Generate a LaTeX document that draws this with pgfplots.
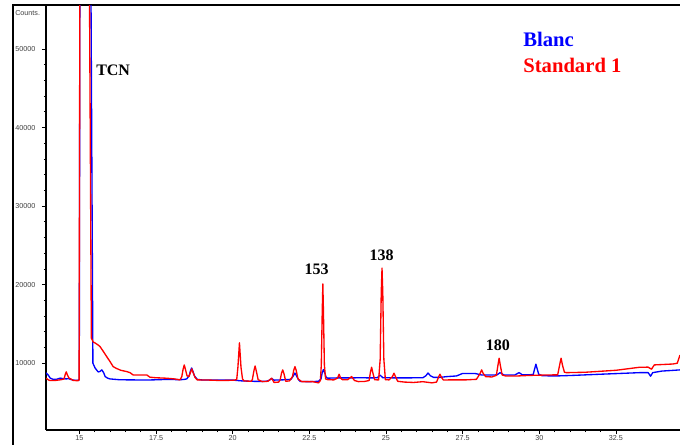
\documentclass[border=0pt]{standalone}
\usepackage{pgfplots}
\pgfplotsset{compat=1.18}
\usepackage{fontspec}
\setmainfont{Liberation Serif}
\newfontfamily\arial{Liberation Sans}
\begin{document}
\begin{tikzpicture}
\path[use as bounding box] (0,0) rectangle (510pt,333.75pt);
\draw[line width=1.3pt] (9.75pt,0) -- (9.75pt,330pt) -- (511pt,330pt);
\node[anchor=west,inner sep=0pt,font=\arial\fontsize{5.4}{6}\selectfont,text=black!75] at (11.25pt,324pt) {Counts.};
\begin{axis}[
  at={(34.5pt,11.25pt)}, anchor=south west,
  scale only axis, width=475.5pt, height=318pt,
  xmin=13.91, xmax=34.59, ymin=1500, ymax=55470,
  axis x line*=bottom, axis y line*=left,
  axis line style={line width=0.8pt},
  tick align=outside,
  major tick length=3pt, minor tick length=1.6pt,
  every tick/.style={black, line width=0.5pt},
  xtick={15,17.5,20,22.5,25,27.5,30,32.5},
  ytick={10000,20000,30000,40000,50000},
  minor x tick num=4, minor y tick num=4,
  scaled y ticks=false,
  /pgf/number format/1000 sep={},
  /pgf/number format/assume math mode=true,
  ticklabel style={font=\arial\fontsize{5.4}{6}\selectfont, text=black!75, inner sep=0pt},
  yticklabel style={anchor=west, xshift=-20.25pt},
  xticklabel style={anchor=north, yshift=-1pt},
  clip=true,
  line join=round,
]
\addplot[blue, line width=1pt] coordinates {
(13.91,8770) (13.98,8500) (14.05,8100) (14.14,7950) (14.25,7950) (14.37,8100) (14.45,8050)
(14.57,8000) (14.65,8050) (14.70,7950) (14.80,7850) (14.90,7830) (14.98,7850) (14.995,7900)
(15.02,70000) (15.36,70000) (15.44,10000) (15.51,9400) (15.61,8890) (15.67,8950) (15.73,9150)
(15.79,8800) (15.84,8300) (15.92,8100) (16.0,8000) (16.3,7900) (16.6,7880) (17.0,7870)
(17.3,7870) (17.6,7900) (17.85,7950) (18.0,7930) (18.28,7900) (18.4,7930) (18.5,8000)
(18.58,8400) (18.62,9000) (18.66,9400) (18.70,9000) (18.75,8400) (18.84,7950) (19.0,7870) (19.5,7860) (20.0,7850)
(20.3,7750) (20.6,7700) (20.9,7680) (21.1,7700) (21.2,7850) (21.27,8050) (21.35,7850)
(21.63,7880) (21.9,7950) (21.98,8400) (22.03,8750) (22.08,8400) (22.14,7950) (22.2,7680) (22.5,7650) (22.8,7700)
(22.88,8000) (22.92,8800) (22.96,9200) (23.00,8800) (23.05,8200) (23.1,8100) (23.4,8130) (23.8,8130) (24.2,8150)
(24.5,8130) (24.72,8150) (24.80,8500) (24.9,8150) (25.5,8130) (26.2,8150) (26.30,8400) (26.37,8750)
(26.45,8400) (26.55,8200) (26.76,8200) (27.0,8300) (27.3,8380) (27.5,8700) (27.9,8700) (28.12,8500)
(28.5,8500) (28.62,8520) (28.72,8800) (28.85,8500) (29.2,8500) (29.34,8800) (29.45,8520)
(29.8,8550) (29.85,9300) (29.89,9880) (29.93,9300) (29.98,8600) (30.1,8400) (30.6,8384) (31.1,8450) (32.0,8600)
(33.28,8800) (33.55,8800) (33.63,8350) (33.7,8800) (34.0,9000) (34.59,9150)
};
\addplot[red, line width=1pt] coordinates {
(13.91,8100) (14.0,7850) (14.05,7790) (14.2,7800) (14.4,7900) (14.5,8000) (14.54,8600) (14.57,8900)
(14.61,8500) (14.66,8100) (14.72,8000) (14.8,7800) (14.96,7780) (14.99,7900) (15.02,70000) (15.31,70000)
(15.39,13200) (15.45,12700) (15.51,12580) (15.6,12350) (15.675,12110) (15.78,11500)
(15.89,10840) (16.0,10200) (16.10,9570) (16.2,9350) (16.35,9100) (16.55,8930) (16.65,8800)
(16.75,8510) (17.0,8510) (17.2,8500) (17.3,8220) (17.5,8150) (17.85,8090) (18.1,8000)
(18.28,7880) (18.34,8300) (18.38,9200) (18.42,9780) (18.46,9200) (18.51,8400) (18.57,8300) (18.62,8800) (18.665,9280) (18.71,8800) (18.77,8200)
(18.84,7880) (19.2,7860) (19.6,7800) (20.0,7830) (20.13,7900) (20.17,9500) (20.22,12600) (20.27,9500) (20.32,8000)
(20.37,7750) (20.6,7700) (20.64,7900) (20.69,9000) (20.73,9650) (20.77,9000) (20.83,7900) (20.96,7660) (21.15,7700) (21.27,8090)
(21.35,7550) (21.5,7600) (21.55,7900) (21.59,8700) (21.63,9150) (21.67,8700) (21.73,7700) (21.85,7750) (21.95,8300) (21.99,9100) (22.03,9570)
(22.07,9100) (22.13,8000) (22.25,7660) (22.6,7660) (22.8,7500) (22.86,7800) (22.89,9800) (22.92,16500) (22.94,20100) (22.96,16500) (22.99,9800) (23.03,8000)
(23.1,7900) (23.3,7880) (23.42,8100) (23.47,8600) (23.52,8100) (23.58,7900) (23.75,7900) (23.88,8300) (23.97,7800)
(24.1,7660) (24.3,7680) (24.45,7800) (24.49,8800) (24.53,9490) (24.57,8800) (24.63,7900) (24.76,7870) (24.81,10500) (24.845,19000) (24.87,22100)
(24.895,19000) (24.93,10500) (24.98,7900) (25.1,7880) (25.21,8300) (25.26,8730) (25.31,8300) (25.38,7700) (25.6,7600) (25.9,7550) (26.2,7650)
(26.5,7500) (26.65,7600) (26.71,8200) (26.76,8600) (26.81,8200) (26.87,7870) (27.2,7880) (27.6,7880) (27.95,7950)
(28.07,8700) (28.12,9150) (28.17,8700) (28.25,8300) (28.45,8250) (28.6,8450) (28.65,9700) (28.69,10640) (28.73,9700) (28.79,8500) (28.9,8380)
(29.3,8380) (29.7,8450) (30.2,8500) (30.6,8520) (30.66,9700) (30.71,10640) (30.76,9700) (30.82,8850) (30.89,8800)
(31.5,8850) (32.5,9100) (33.28,9490) (33.55,9500) (33.66,9236) (33.75,9784) (34.36,9900)
(34.5,10000) (34.59,11050)
};
\node[font=\bfseries\fontsize{12}{14}\selectfont] at (axis cs:16.10,47325) {TCN};
\node[font=\bfseries\fontsize{12}{14}\selectfont] at (axis cs:22.74,22000) {153};
\node[font=\bfseries\fontsize{12}{14}\selectfont] at (axis cs:24.86,23782) {138};
\node[font=\bfseries\fontsize{12}{14}\selectfont] at (axis cs:28.65,12329) {180};
\node[anchor=west,inner sep=0pt,text=blue,font=\bfseries\fontsize{15.5}{18}\selectfont] at (axis cs:29.47,51271) {Blanc};
\node[anchor=west,inner sep=0pt,text=red,font=\bfseries\fontsize{15.5}{18}\selectfont] at (axis cs:29.47,47962) {Standard 1};
\end{axis}
\end{tikzpicture}
\end{document}
